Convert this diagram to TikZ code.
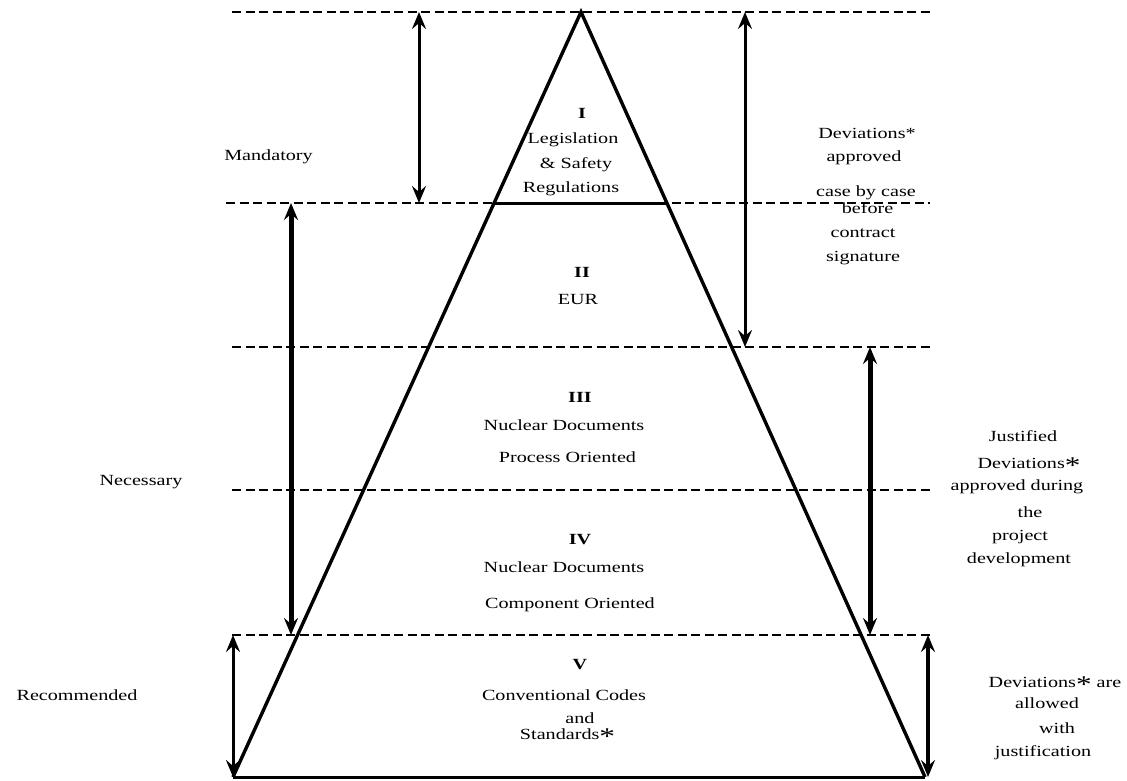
\documentclass[tikz,border=0pt]{standalone}
\usepackage{fontspec}
\setmainfont[FakeStretch=1.3]{Liberation Serif}
\usetikzlibrary{arrows.meta}
\newcommand{\bigast}{\raisebox{-5pt}{\fontsize{24}{24}\selectfont *}}
\tikzset{
  lvl/.style={line width=2.8pt, dash pattern=on 9pt off 4.5pt},
  pyr/.style={line width=3.4pt, line join=miter},
  txt/.style={inner sep=0pt, font=\fontsize{15.5}{16}\selectfont},
  num/.style={txt, font=\fontsize{15.5}{16}\selectfont\bfseries},
  tip/.tip={Stealth[length=17pt,width=14pt,inset=6pt]},
  dimthin/.style={line width=3pt, tip-tip},
  dimthick/.style={line width=5pt, tip-tip},
}
\begin{document}
\begin{tikzpicture}[x=1pt,y=-1pt]
\useasboundingbox (0,0) rectangle (1127,780);
% level coordinates
\coordinate (l0a) at (232,12);  \coordinate (l0b) at (930,12);
\coordinate (l1a) at (226,203); \coordinate (l1b) at (930,203);
\coordinate (l2a) at (232,347); \coordinate (l2b) at (930,347);
\coordinate (l3a) at (232,490); \coordinate (l3b) at (930,490);
\coordinate (l4a) at (232,635); \coordinate (l4b) at (930,635);
\draw[lvl] (l0a) -- (l0b);
\draw[lvl] (l1a) -- (l1b);
\draw[lvl] (l2a) -- (l2b);
\draw[lvl] (l3a) -- (l3b);
\draw[lvl] (l4a) -- (l4b);
% pyramid
\coordinate (apex) at (581,12);
\coordinate (bl) at (233,777);
\coordinate (br) at (925,777);
\coordinate (s1l) at (494,203);
\coordinate (s1r) at (667,203);
\draw[pyr] (bl) -- (apex) -- (br);
\draw[line width=3pt] (bl) -- (br);
\draw[line width=3pt] (s1l) -- (s1r);
% arrows
\coordinate (a1) at (419,12);  \coordinate (a2) at (419,203);
\coordinate (b1) at (291,203); \coordinate (b2) at (291,635);
\coordinate (c1) at (233,635); \coordinate (c2) at (233,777);
\coordinate (d1) at (745,12);  \coordinate (d2) at (745,347);
\coordinate (e1) at (870,347); \coordinate (e2) at (870,635);
\coordinate (f1) at (928,635); \coordinate (f2) at (928,777);
\draw[dimthin] (a1) -- (a2);
\draw[dimthick] (b1) -- (b2);
\draw[dimthin] (c1) -- (c2);
\draw[dimthin] (d1) -- (d2);
\draw[dimthick] (e1) -- (e2);
\draw[line width=4pt, tip-tip] (f1) -- (f2);
% left labels
\node[txt] (mand) at (268.5,157) {Mandatory};
\node[txt] (nec) at (141,482) {Necessary};
\node[txt] (rec) at (77,695) {Recommended};
% pyramid texts
\node[num] (n1) at (582,113) {I};
\node[txt] (t1a) at (573,140) {Legislation};
\node[txt] (t1b) at (576,165) {\& Safety};
\node[txt] (t1c) at (571,189) {Regulations};
\node[num] (n2) at (582,272) {II};
\node[txt] (t2a) at (578,299) {EUR};
\node[num] (n3) at (580,397) {III};
\node[txt] (t3a) at (564,425) {Nuclear Documents};
\node[txt] (t3b) at (567.5,457) {Process Oriented};
\node[num] (n4) at (580,540) {IV};
\node[txt] (t4a) at (564,567) {Nuclear Documents};
\node[txt] (t4b) at (570,605) {Component Oriented};
\node[num] (n5) at (580,665) {V};
\node[txt] (t5a) at (564,695) {Conventional Codes};
\node[txt] (t5b) at (580,718) {and};
\node[txt] (t5c) at (567.5,737) {Standards\bigast};
% right texts
\node[txt] (r1a) at (867,133) {Deviations*};
\node[txt] (r1b) at (864,158) {approved};
\node[txt] (r1c) at (866,193) {case by case};
\node[txt] (r1d) at (867.5,208) {before};
\node[txt] (r1e) at (863,233) {contract};
\node[txt] (r1f) at (863,258) {signature};
\node[txt] (r2a) at (1023,436) {Justified};
\node[txt] (r2b) at (1029,466) {Deviations\bigast};
\node[txt] (r2c) at (1017,487) {approved during};
\node[txt] (r2d) at (1030,512) {the};
\node[txt] (r2e) at (1020,537) {project};
\node[txt] (r2f) at (1019,560) {development};
\node[txt] (r3a) at (1055,685) {Deviations\bigast{} are};
\node[txt] (r3b) at (1047,703) {allowed};
\node[txt] (r3c) at (1057,728) {with};
\node[txt] (r3d) at (1043,753) {justification};
\end{tikzpicture}
\end{document}
